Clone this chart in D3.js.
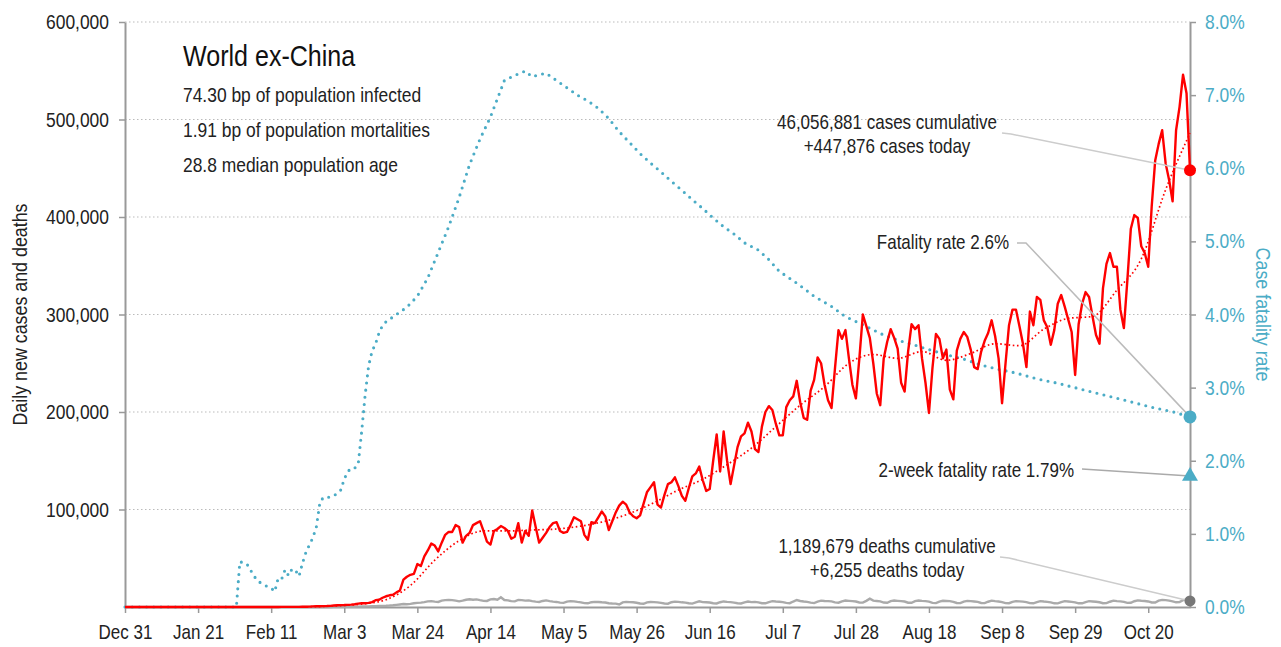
<!DOCTYPE html>
<html>
<head>
<meta charset="utf-8">
<script src="https://cdn.jsdelivr.net/npm/d3@7"></script>
<style>
  body { margin: 0; background: #fff; }
  text { font-family: "Liberation Sans", Arial, sans-serif; }
</style>
</head>
<body>
<div class="chart"></div>
<script>
// DATA
// ----------------------------
// daily values start on Dec 31 2019, one entry per day (thousands)
const startDate = new Date(2019, 11, 31)

const dailyCases = [
  0, 0, 0, 0, 0, 0, 0, 0, 0, 0,
  0, 0, 0, 0, 0, 0, 0, 0, 0, 0,
  0, 0, 0, 0, 0, 0, 0, 0, 0.01, 0.01,
  0.02, 0.02, 0.02, 0.02, 0.02, 0.02, 0.02, 0.03, 0.03, 0.02,
  0.03, 0.03, 0.04, 0.05, 0.05, 0.08, 0.1, 0.1, 0.1, 0.15,
  0.1, 0.2, 0.3, 0.4, 0.6, 0.7, 0.8, 0.9, 1.0, 1.2,
  1.5, 1.8, 1.9, 2.0, 2.2, 2.4, 2.8, 3.5, 3.8, 3.9,
  4.2, 5.0, 7.0, 7.5, 9.5, 11, 12, 12.5, 15, 17,
  28, 31, 33, 34, 44, 42, 52, 58, 65, 63,
  57, 66, 74, 77, 77, 84, 82, 66, 73, 76,
  84, 86, 88, 78, 67, 64, 78, 80, 83, 81,
  78, 70, 72, 86, 66, 78, 73, 99, 82, 66,
  71, 76, 82, 86, 87, 78, 76, 77, 84, 92,
  90, 88, 74, 69, 87, 86, 92, 98, 93, 79,
  88, 97, 104, 108, 105, 97, 93, 91, 94, 106,
  118, 123, 128, 105, 102, 115, 126, 128, 133, 124,
  114, 109, 122, 134, 137, 144, 130, 119, 121, 150,
  177, 139, 180, 150, 126, 145, 164, 175, 178, 189,
  180, 162, 159, 185, 200, 206, 202, 188, 176, 176,
  205, 212, 216, 232, 210, 194, 192, 222, 233, 256,
  250, 228, 212, 204, 245, 284, 275, 284, 255, 228,
  214, 255, 300, 288, 276, 250, 219, 207, 255, 272,
  285, 276, 265, 230, 221, 262, 290, 285, 289, 255,
  230, 199, 245, 280, 275, 255, 264, 223, 213, 263,
  275, 282, 277, 264, 246, 244, 262, 273, 281, 294,
  278, 255, 209, 250, 289, 305, 305, 288, 270, 246,
  303, 289, 318, 315, 294, 287, 269, 284, 311, 320,
  308, 295, 282, 238, 290, 311, 323, 318, 298, 279,
  270, 327, 352, 363, 349, 349, 305, 286, 335, 388,
  402, 399, 370, 363, 349, 411, 458, 475, 489, 455,
  438, 416, 489, 513, 546, 527, 447.876
]

const dailyDeaths = [
  0, 0, 0, 0, 0, 0, 0, 0, 0, 0,
  0, 0, 0, 0, 0, 0, 0, 0, 0, 0,
  0, 0, 0, 0, 0, 0, 0, 0, 0, 0,
  0, 0, 0, 0, 0, 0, 0, 0, 0, 0,
  0, 0, 0, 0, 0, 0, 0, 0, 0, 0,
  0.01, 0.01, 0.02, 0.02, 0.03, 0.03, 0.04, 0.05, 0.06, 0.07,
  0.08, 0.1, 0.12, 0.15, 0.2, 0.25, 0.3, 0.35, 0.45, 0.55,
  0.6, 0.7, 0.85, 1.0, 1.2, 1.3, 1.5, 1.8, 2.2, 2.6,
  3.0, 2.8, 3.2, 3.8, 4.2, 4.5, 5.0, 5.8, 6.0, 5.5,
  5.2, 6.5, 7.0, 7.3, 7.0, 6.5, 5.8, 6.5, 7.4, 7.9,
  7.5, 7.8, 7.0, 6.3, 6.2, 7.8, 8.2, 7.5, 10.0, 7.2,
  6.8, 6.0, 5.8, 7.2, 7.0, 6.5, 6.8, 6.0, 5.5, 5.2,
  6.2, 6.8, 6.0, 5.5, 5.2, 4.5, 4.2, 5.5, 6.0, 5.8,
  5.2, 4.8, 4.0, 3.8, 4.9, 5.3, 5.1, 4.8, 4.6, 3.8,
  3.6, 3.5, 2.6, 4.7, 5.2, 5.0, 4.8, 4.4, 3.6, 3.3,
  4.8, 5.1, 5.0, 4.8, 4.2, 3.6, 3.4, 4.9, 5.5, 5.3,
  4.8, 4.5, 3.8, 3.5, 4.8, 5.8, 5.0, 4.8, 4.6, 3.9,
  3.6, 4.9, 5.7, 5.3, 5.0, 4.5, 3.8, 3.6, 4.8, 5.6,
  5.0, 5.3, 4.8, 3.9, 3.8, 5.0, 6.0, 5.6, 5.4, 5.0,
  4.2, 3.9, 5.6, 7.2, 6.2, 5.6, 5.2, 4.5, 4.0, 5.5,
  6.5, 6.2, 6.0, 5.8, 4.8, 4.4, 5.8, 6.6, 6.3, 6.0,
  5.6, 4.6, 4.5, 6.3, 8.5, 6.5, 6.2, 5.8, 4.6, 4.3,
  6.0, 6.6, 6.3, 6.0, 5.6, 4.4, 4.3, 6.0, 6.7, 6.3,
  6.0, 5.5, 4.2, 4.0, 5.6, 6.4, 6.2, 6.0, 5.3, 4.1,
  4.0, 5.6, 6.3, 6.0, 5.7, 5.2, 4.1, 4.0, 5.4, 6.5,
  6.0, 5.6, 5.0, 4.0, 3.9, 5.2, 6.0, 5.8, 5.5, 5.0,
  4.0, 3.8, 5.0, 6.0, 5.6, 5.3, 4.8, 3.8, 3.7, 5.0,
  6.0, 5.7, 5.3, 4.8, 3.8, 3.8, 5.1, 6.0, 5.7, 5.4,
  4.9, 3.9, 4.0, 5.4, 6.5, 6.0, 5.8, 5.3, 4.2, 4.3,
  5.9, 6.8, 6.4, 6.2, 5.7, 4.6, 4.6, 6.5, 7.3, 7.0,
  6.6, 5.8, 4.8, 5.0, 7.0, 7.5, 6.255
]

// 7-day trend of cases, read weekly, first value on Jan 5 (thousands)
const trendStart = new Date(2020, 0, 5)
const weeklyTrend = [
  0, 0, 0, 0, 0.02, 0.05, 0.08, 0.3, 1.3, 3.0,
  7.5, 22, 48, 68, 78, 78, 79, 80, 83, 88,
  96, 107, 120, 131, 146, 163, 185, 207, 226, 250,
  259, 255, 262, 253, 260, 270, 268, 285, 296, 298,
  325, 357, 428, 486
]

// case fatality rate (%), day offsets from Dec 31
const cfrDay = [
  0, 32, 33, 35, 36, 37, 38, 40, 42, 43, 44, 45, 46, 47, 48, 49, 50, 51,
  52, 53, 54, 55, 56, 57, 59, 61, 62, 63, 64, 65, 66, 67, 68, 69, 70, 71,
  72, 73, 74, 75, 78, 81, 84, 87, 90, 93, 96, 99, 102, 105, 107, 109, 112,
  115, 117, 119, 121, 124, 127, 130, 133, 136, 139, 142, 145, 148, 151,
  154, 157, 160, 163, 166, 169, 172, 175, 178, 182, 185, 188, 193, 198,
  203, 207, 212, 217, 222, 227, 231, 236, 241, 246, 251, 256, 262, 268,
  277, 287, 296, 301, 306
]
const cfrValue = [
  0, 0, 0.62, 0.59, 0.51, 0.43, 0.36, 0.30, 0.26, 0.21, 0.39, 0.38, 0.51, 0.43, 0.52, 0.50, 0.42, 0.60,
  0.75, 0.85, 0.95, 1.1, 1.43, 1.5, 1.5, 1.55, 1.6, 1.75, 1.85, 1.9, 1.9, 1.95, 2.4, 2.9, 3.3, 3.5,
  3.6, 3.75, 3.85, 3.9, 4.0, 4.1, 4.25, 4.5, 4.85, 5.2, 5.6, 6.05, 6.4, 6.7, 6.95, 7.2, 7.27,
  7.33, 7.25, 7.28, 7.3, 7.2, 7.1, 7.0, 6.92, 6.82, 6.68, 6.5, 6.35, 6.2, 6.07,
  5.95, 5.82, 5.7, 5.57, 5.45, 5.32, 5.2, 5.1, 4.98, 4.88, 4.75, 4.59, 4.43, 4.25,
  4.11, 3.97, 3.86, 3.74, 3.65, 3.58, 3.52, 3.45, 3.39, 3.31, 3.25, 3.2, 3.12, 3.06,
  2.95, 2.83, 2.72, 2.67, 2.6
]

const twoWeekCfr = 1.79
const yTicks = [100000, 200000, 300000, 400000, 500000, 600000]
const rTicks = [0, 1, 2, 3, 4, 5, 6, 7, 8]

const subtitles = [
  '74.30 bp of population infected',
  '1.91 bp of population mortalities',
  '28.8 median population age'
]

// SETUP
// ----------------------------
const margin = { top: 22, right: 91, bottom: 40, left: 125 }
const fullWidth = 1281
const fullHeight = 647
const width = fullWidth - margin.left - margin.right
const height = fullHeight - margin.top - margin.bottom

const teal = '#4bacc6'
const red = '#ff0000'
const axisGrey = '#999'
const ink = '#222'
const SX = 0.85 // narrow the glyphs, the original uses a condensed face

const svg = d3.select('.chart')
  .append('svg')
    .attr('width', fullWidth)
    .attr('height', fullHeight)
  .append('g')
    .attr('transform', `translate(${margin.left}, ${margin.top})`)

const day = i => d3.timeDay.offset(startDate, i)
const lastDay = dailyCases.length - 1

// condensed text at x, y (extra transform such as rotate goes before the squeeze)
const label = (x, y, str, size, opts = {}) => svg.append('text')
  .attr('transform', `translate(${x}, ${y}) ${opts.rotate ? `rotate(${opts.rotate})` : ''} scale(${SX}, 1)`)
  .attr('text-anchor', opts.anchor || 'start')
  .attr('font-size', size)
  .attr('fill', opts.fill || ink)
  .text(str)

// SCALES
// ----------------------------
const xScale = d3.scaleTime()
  .domain([startDate, day(lastDay)])
  .range([0, width])
const yScale = d3.scaleLinear()
  .domain([0, 600000])
  .range([height, 0])
const rScale = d3.scaleLinear()
  .domain([0, 8])
  .range([height, 0])

// GRID
// ----------------------------
svg.append('g')
  .selectAll('line')
  .data(yTicks)
  .enter()
  .append('line')
    .attr('x1', 0)
    .attr('x2', width)
    .attr('y1', d => yScale(d))
    .attr('y2', d => yScale(d))
    .attr('stroke', '#bbb')
    .attr('stroke-width', 1)
    .attr('stroke-dasharray', '1.5,2.5')

// AXES
// ----------------------------
const xTicks = d3.range(0, lastDay, 21).map(day)
const xAxis = d3.axisBottom(xScale)
  .tickValues(xTicks)
  .tickFormat(d3.timeFormat('%b %-d'))
  .tickSize(6)
  .tickSizeOuter(0)
  .tickPadding(12)
const yAxis = d3.axisLeft(yScale)
  .tickValues(yTicks)
  .tickFormat(d3.format(','))
  .tickSize(6)
  .tickSizeOuter(0)
  .tickPadding(10)
const rAxis = d3.axisRight(rScale)
  .tickValues(rTicks)
  .tickFormat(d => d.toFixed(1) + '%')
  .tickSize(6)
  .tickSizeOuter(0)
  .tickPadding(9)

const gx = svg.append('g').attr('transform', `translate(0, ${height})`).call(xAxis)
const gy = svg.append('g').call(yAxis)
const gr = svg.append('g').attr('transform', `translate(${width}, 0)`).call(rAxis)

;[gx, gy, gr].forEach(g => {
  g.select('.domain').attr('stroke', axisGrey).attr('stroke-width', 2)
  g.selectAll('.tick line').attr('stroke', axisGrey).attr('stroke-width', 1.5)
  g.selectAll('.tick text')
    .attr('font-size', 20.5)
    .attr('fill', ink)
    .attr('font-family', '"Liberation Sans", Arial, sans-serif')
    .attr('x', function () { return (+d3.select(this).attr('x') || 0) / SX })
    .attr('transform', `scale(${SX}, 1)`)
})
gx.selectAll('.tick text').attr('font-size', 20)
gr.selectAll('.tick text').attr('fill', teal)

label(-98, height / 2, 'Daily new cases and deaths', 21, { rotate: -90, anchor: 'middle' })
label(width + 66, height / 2, 'Case fatality rate', 21, { rotate: 90, anchor: 'middle', fill: teal })

// LINES
// ----------------------------
const kLine = d3.line()
  .x((d, i) => xScale(day(i)))
  .y(d => yScale(d * 1000))

svg.append('path')
  .datum(cfrValue)
  .attr('d', d3.line()
    .x((d, i) => xScale(day(cfrDay[i])))
    .y(d => rScale(d)))
  .attr('fill', 'none')
  .attr('stroke', teal)
  .attr('stroke-width', 3.1)
  .attr('stroke-linecap', 'round')
  .attr('stroke-dasharray', '0,7.2')

svg.append('path')
  .datum(dailyDeaths)
  .attr('d', kLine)
  .attr('fill', 'none')
  .attr('stroke', '#aaa')
  .attr('stroke-width', 2.4)

svg.append('path')
  .datum(dailyCases)
  .attr('d', kLine)
  .attr('fill', 'none')
  .attr('stroke', red)
  .attr('stroke-width', 2.4)
  .attr('stroke-linejoin', 'round')

svg.append('path')
  .datum(weeklyTrend)
  .attr('d', d3.line()
    .curve(d3.curveMonotoneX)
    .x((d, i) => xScale(d3.timeDay.offset(trendStart, i * 7)))
    .y(d => yScale(d * 1000)))
  .attr('fill', 'none')
  .attr('stroke', red)
  .attr('stroke-width', 1.7)
  .attr('stroke-dasharray', '1.6,2.6')

// END MARKERS + NOTES
// ----------------------------
const endX = xScale(day(lastDay))
const casesY = yScale(dailyCases[lastDay] * 1000)
const deathsY = yScale(dailyDeaths[lastDay] * 1000)
const cfrY = rScale(cfrValue[cfrValue.length - 1])
const twoWeekY = rScale(twoWeekCfr)

const leader = (pts, color) => svg.append('polyline')
  .attr('points', pts.map(p => p.join(',')).join(' '))
  .attr('fill', 'none')
  .attr('stroke', color)
  .attr('stroke-width', 1.5)

leader([[877, 111], [886, 112], [endX, casesY]], '#ccc')
leader([[892, 221], [901, 221], [endX, cfrY]], '#bbb')
leader([[957, 447], [endX, twoWeekY]], '#aaa')
leader([[875, 535], [884, 536], [endX, deathsY]], '#ccc')

svg.append('circle').attr('cx', endX).attr('cy', casesY).attr('r', 6).attr('fill', red)
svg.append('circle').attr('cx', endX).attr('cy', cfrY).attr('r', 6.5).attr('fill', teal)
svg.append('circle').attr('cx', endX).attr('cy', deathsY).attr('r', 5.5).attr('fill', '#777')
svg.append('path')
  .attr('d', d3.symbol(d3.symbolTriangle, 110)())
  .attr('transform', `translate(${endX}, ${twoWeekY})`)
  .attr('fill', teal)

label(762, 107, '46,056,881 cases cumulative', 20, { anchor: 'middle' })
label(762, 131, '+447,876 cases today', 20, { anchor: 'middle' })
label(884, 227, 'Fatality rate 2.6%', 20, { anchor: 'end' })
label(949, 455, '2-week fatality rate 1.79%', 20, { anchor: 'end' })
label(762, 531, '1,189,679 deaths cumulative', 20, { anchor: 'middle' })
label(762, 555, '+6,255 deaths today', 20, { anchor: 'middle' })

// TITLE BLOCK
// ----------------------------
label(58, 44, 'World ex-China', 29.5, { fill: '#111' })
subtitles.forEach((s, i) => label(58, 80 + i * 35, s, 20.5))
</script>
</body>
</html>
